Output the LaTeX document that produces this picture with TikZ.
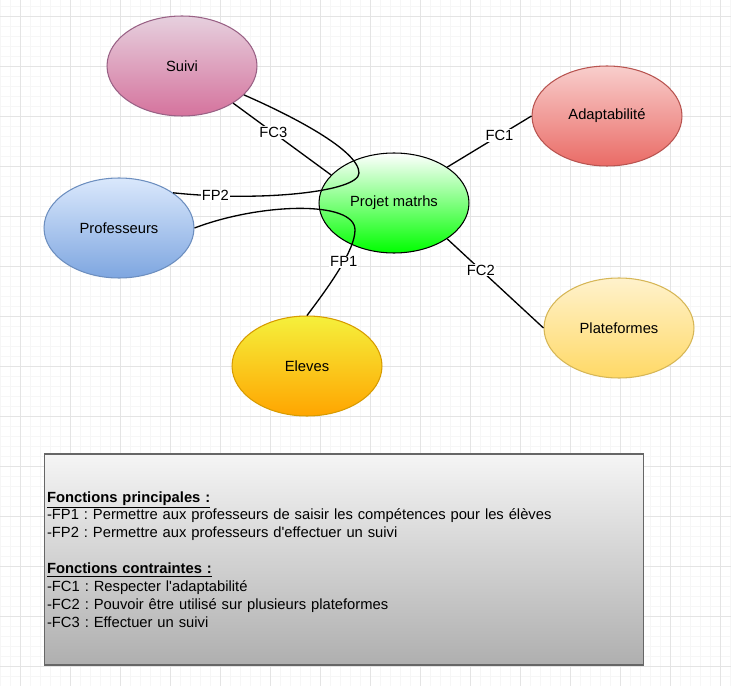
\documentclass[tikz,border=0pt]{standalone}
\usepackage{fontspec}
\newfontfamily\police{Liberation Sans}
\usepackage{tikz}
\usetikzlibrary{shapes.geometric, calc}
\frenchspacing
\definecolor{grillefine}{RGB}{246,246,246}
\definecolor{grillegros}{RGB}{228,228,228}
\definecolor{rosebord}{HTML}{996185}
\definecolor{rosehaut}{HTML}{E6D0DE}
\definecolor{rosebas}{HTML}{D5739D}
\definecolor{bleubord}{HTML}{6C8EBF}
\definecolor{bleuhaut}{HTML}{DAE8FC}
\definecolor{bleubas}{HTML}{7EA6E0}
\definecolor{vertbas}{HTML}{00FF00}
\definecolor{orangebord}{HTML}{D79B00}
\definecolor{orangehaut}{RGB}{245,240,60}
\definecolor{orangebas}{HTML}{FFA500}
\definecolor{rougebord}{HTML}{B85450}
\definecolor{rougehaut}{HTML}{F8CECC}
\definecolor{rougebas}{HTML}{EA6B66}
\definecolor{jaunebord}{HTML}{D6B656}
\definecolor{jaunehaut}{HTML}{FFF2CC}
\definecolor{jaunebas}{HTML}{FFD966}
\definecolor{grisbord}{HTML}{666666}
\definecolor{grishaut}{HTML}{F5F5F5}
\definecolor{grisbas}{HTML}{AFAFAF}
\tikzset{
  bulle/.style={ellipse, minimum width=3cm, minimum height=2cm, inner sep=0pt, line width=0.6pt, text=black, font=\police\fontsize{8.4}{10.2}\selectfont},
  lien/.style={line width=0.75pt, color=black},
  etiq/.style={fill=white, inner sep=0.6pt, text=black, font=\police\fontsize{8.4}{10.2}\selectfont},
  legende/.style={rectangle, draw=grisbord, top color=grishaut, bottom color=grisbas, line width=0.6pt, minimum width=12cm, minimum height=4.22cm, text width=11.88cm, inner xsep=0.06cm, align=left, font=\police\fontsize{8.4}{10.2}\selectfont\frenchspacing}
}
\begin{document}
\begin{tikzpicture}[x=0.02cm, y=-0.02cm,
  fine/.style={color=grillefine, line width=0.5pt},
  gros/.style={color=grillegros, line width=0.5pt}]
  \useasboundingbox (0,0) rectangle (731,686);
  % fond quadrille
  \fill[white] (0,0) rectangle (731,686);
  \foreach \gx in {0,10,...,730} \draw[fine] (\gx,0) -- (\gx,686);
  \foreach \gy in {6,16,...,686} \draw[fine] (0,\gy) -- (731,\gy);
  \foreach \gx in {20,70,...,720} \draw[gros] (\gx,0) -- (\gx,686);
  \foreach \gy in {16,66,...,666} \draw[gros] (0,\gy) -- (731,\gy);
  % elements
  \node (suivi) [bulle, draw=rosebord, top color=rosehaut, bottom color=rosebas] at (182,66) {Suivi};
  \node (projet) [bulle, draw=black, top color=white, bottom color=vertbas] at (394,203) {Projet matrhs};
  \node (prof) [bulle, draw=bleubord, top color=bleuhaut, bottom color=bleubas] at (119,228) {Professeurs};
  \node (eleves) [bulle, draw=orangebord, top color=orangehaut, bottom color=orangebas] at (307,366) {Eleves};
  \node (adapt) [bulle, draw=rougebord, top color=rougehaut, bottom color=rougebas] at (607,116) {Adaptabilité};
  \node (plat) [bulle, draw=jaunebord, top color=jaunehaut, bottom color=jaunebas] at (619,328) {Plateformes};
  % fonctions contraintes
  \draw [lien] (projet.34) -- (adapt.west) node[etiq, pos=0.62] {FC1};
  \draw [lien] (projet.-34) -- (plat.west) node[etiq, pos=0.35] {FC2};
  \draw [lien] (suivi.-36) -- (projet.156) node[etiq, pos=0.41] {FC3};
  % fonctions principales
  \draw [lien] (prof.33) .. controls (260,202) and (359,192) .. (359,173) node[etiq, pos=0.16] {FP2}
    .. controls (359,150) and (290,115) .. (suivi.-25);
  \draw [lien] (prof.east) .. controls (260,203) and (355,200) .. (355,230)
    .. controls (355,250) and (330,285) .. (eleves.north) node[etiq, pos=0.42] {FP1};
  % legende
  \node (legende) [legende] at (344,559.5) {\underline{\textbf{Fonctions principales :}}\\
    -FP1 : Permettre aux professeurs de saisir les compétences pour les élèves\\
    -FP2 : Permettre aux professeurs d'effectuer un suivi\\[10.2pt]
    \underline{\textbf{Fonctions contraintes :}}\\
    -FC1 : Respecter l'adaptabilité\\
    -FC2 : Pouvoir être utilisé sur plusieurs plateformes\\
    -FC3 : Effectuer un suivi};
\end{tikzpicture}
\end{document}
